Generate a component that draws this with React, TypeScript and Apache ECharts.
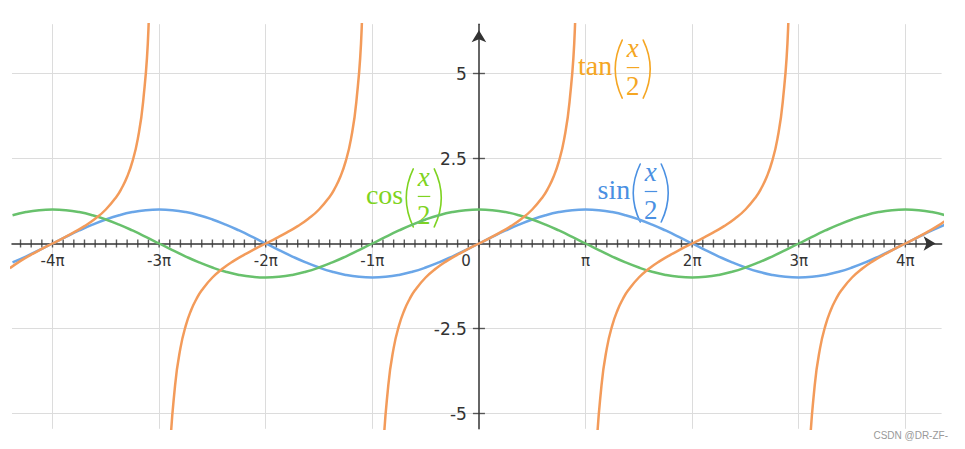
import React, { useEffect, useRef } from 'react';
import * as echarts from 'echarts';

// x positions are in multiples of π
const xSamples = [
  -4.375, -4.25, -4.125, -4, -3.875, -3.75, -3.625, -3.5, -3.375, -3.25, -3.125, -3,
  -2.875, -2.75, -2.625, -2.5, -2.375, -2.25, -2.125, -2, -1.875, -1.75, -1.625, -1.5,
  -1.375, -1.25, -1.125, -1, -0.875, -0.75, -0.625, -0.5, -0.375, -0.25, -0.125, 0,
  0.125, 0.25, 0.375, 0.5, 0.625, 0.75, 0.875, 1, 1.125, 1.25, 1.375, 1.5,
  1.625, 1.75, 1.875, 2, 2.125, 2.25, 2.375, 2.5, 2.625, 2.75, 2.875, 3,
  3.125, 3.25, 3.375, 3.5, 3.625, 3.75, 3.875, 4, 4.125, 4.25, 4.375,
];

const sinHalf = [
  -0.5556, -0.3827, -0.1951, 0, 0.1951, 0.3827, 0.5556, 0.7071, 0.8315, 0.9239, 0.9808, 1,
  0.9808, 0.9239, 0.8315, 0.7071, 0.5556, 0.3827, 0.1951, 0, -0.1951, -0.3827, -0.5556, -0.7071,
  -0.8315, -0.9239, -0.9808, -1, -0.9808, -0.9239, -0.8315, -0.7071, -0.5556, -0.3827, -0.1951, 0,
  0.1951, 0.3827, 0.5556, 0.7071, 0.8315, 0.9239, 0.9808, 1, 0.9808, 0.9239, 0.8315, 0.7071,
  0.5556, 0.3827, 0.1951, 0, -0.1951, -0.3827, -0.5556, -0.7071, -0.8315, -0.9239, -0.9808, -1,
  -0.9808, -0.9239, -0.8315, -0.7071, -0.5556, -0.3827, -0.1951, 0, 0.1951, 0.3827, 0.5556,
];

const cosHalf = [
  0.8315, 0.9239, 0.9808, 1, 0.9808, 0.9239, 0.8315, 0.7071, 0.5556, 0.3827, 0.1951, 0,
  -0.1951, -0.3827, -0.5556, -0.7071, -0.8315, -0.9239, -0.9808, -1, -0.9808, -0.9239, -0.8315, -0.7071,
  -0.5556, -0.3827, -0.1951, 0, 0.1951, 0.3827, 0.5556, 0.7071, 0.8315, 0.9239, 0.9808, 1,
  0.9808, 0.9239, 0.8315, 0.7071, 0.5556, 0.3827, 0.1951, 0, -0.1951, -0.3827, -0.5556, -0.7071,
  -0.8315, -0.9239, -0.9808, -1, -0.9808, -0.9239, -0.8315, -0.7071, -0.5556, -0.3827, -0.1951, 0,
  0.1951, 0.3827, 0.5556, 0.7071, 0.8315, 0.9239, 0.9808, 1, 0.9808, 0.9239, 0.8315,
];

const tanBranchLeft = [
  [-4.4, -0.7265], [-4.3, -0.5095], [-4.2, -0.3249], [-4.1, -0.1584], [-4, 0], [-3.9, 0.1584],
  [-3.8, 0.3249], [-3.7, 0.5095], [-3.6, 0.7265], [-3.5, 1], [-3.4, 1.3764], [-3.35, 1.6319],
  [-3.3, 1.9626], [-3.25, 2.4142], [-3.2, 3.0777], [-3.15, 4.1653], [-3.1, 6.3138], [-3.05, 12.7062],
];
const tanBranchMinus2 = [
  [-2.95, -12.7062], [-2.9, -6.3138], [-2.85, -4.1653], [-2.8, -3.0777], [-2.75, -2.4142], [-2.7, -1.9626],
  [-2.65, -1.6319], [-2.6, -1.3764], [-2.5, -1], [-2.4, -0.7265], [-2.3, -0.5095], [-2.2, -0.3249],
  [-2.1, -0.1584], [-2, 0], [-1.9, 0.1584], [-1.8, 0.3249], [-1.7, 0.5095], [-1.6, 0.7265],
  [-1.5, 1], [-1.4, 1.3764], [-1.35, 1.6319], [-1.3, 1.9626], [-1.25, 2.4142], [-1.2, 3.0777],
  [-1.15, 4.1653], [-1.1, 6.3138], [-1.05, 12.7062],
];
const tanBranchCentre = [
  [-0.95, -12.7062], [-0.9, -6.3138], [-0.85, -4.1653], [-0.8, -3.0777], [-0.75, -2.4142], [-0.7, -1.9626],
  [-0.65, -1.6319], [-0.6, -1.3764], [-0.5, -1], [-0.4, -0.7265], [-0.3, -0.5095], [-0.2, -0.3249],
  [-0.1, -0.1584], [0, 0], [0.1, 0.1584], [0.2, 0.3249], [0.3, 0.5095], [0.4, 0.7265],
  [0.5, 1], [0.6, 1.3764], [0.65, 1.6319], [0.7, 1.9626], [0.75, 2.4142], [0.8, 3.0777],
  [0.85, 4.1653], [0.9, 6.3138], [0.95, 12.7062],
];
const tanBranchPlus2 = [
  [1.05, -12.7062], [1.1, -6.3138], [1.15, -4.1653], [1.2, -3.0777], [1.25, -2.4142], [1.3, -1.9626],
  [1.35, -1.6319], [1.4, -1.3764], [1.5, -1], [1.6, -0.7265], [1.7, -0.5095], [1.8, -0.3249],
  [1.9, -0.1584], [2, 0], [2.1, 0.1584], [2.2, 0.3249], [2.3, 0.5095], [2.4, 0.7265],
  [2.5, 1], [2.6, 1.3764], [2.65, 1.6319], [2.7, 1.9626], [2.75, 2.4142], [2.8, 3.0777],
  [2.85, 4.1653], [2.9, 6.3138], [2.95, 12.7062],
];
const tanBranchRight = [
  [3.05, -12.7062], [3.1, -6.3138], [3.15, -4.1653], [3.2, -3.0777], [3.25, -2.4142], [3.3, -1.9626],
  [3.35, -1.6319], [3.4, -1.3764], [3.5, -1], [3.6, -0.7265], [3.7, -0.5095], [3.8, -0.3249],
  [3.9, -0.1584], [4, 0], [4.1, 0.1584], [4.2, 0.3249], [4.3, 0.5095], [4.4, 0.7265],
];
const tanBranches = [tanBranchLeft, tanBranchMinus2, tanBranchCentre, tanBranchPlus2, tanBranchRight];

const xTickValues = [-4, -3, -2, -1, 0, 1, 2, 3, 4];
const xTickLabels = ['-4π', '-3π', '-2π', '-1π', '0', 'π', '2π', '3π', '4π'];
const xGridValues = [-4, -3, -2, -1, 1, 2, 3, 4];
const yTickValues = [-5, -2.5, 2.5, 5];
const yTickLabels = ['-5', '-2.5', '2.5', '5'];
const xMinorTicks = Array.from({ length: 86 }, (_, i) => (i - 43) / 10); // every π/10

const X_MIN = -4.38;
const X_MAX = 4.34;
const Y_MIN = -5.45;
const Y_MAX = 6.45;

const SIN_COLOR = '#6aa6e8';
const COS_COLOR = '#68c16c';
const TAN_COLOR = '#f39b5a';

const curveLabels = [
  { name: 'tan', color: '#f5a623', at: [1.269, 5.13] },
  { name: 'cos', color: '#7ed321', at: [-0.691, 1.34] },
  { name: 'sin', color: '#4a90e2', at: [1.438, 1.485] },
];

const find = (vals: number[], labels: string[], v: number) => {
  for (let i = 0; i < vals.length; i++) if (Math.abs(vals[i] - v) < 1e-6) return labels[i];
  return '';
};

export default function App() {
  const ref = useRef<HTMLDivElement>(null);
  useEffect(() => {
    const chart = echarts.init(ref.current!, null, { renderer: 'svg' });
    const G = { left: 12, top: 24.2, width: 929.6, height: 404.6 };
    // axes cross at data zero: shift them from the grid edges to the zero line
    const zeroX = G.left + ((0 - X_MIN) / (X_MAX - X_MIN)) * G.width;
    const zeroY = G.top + ((Y_MAX - 0) / (Y_MAX - Y_MIN)) * G.height;
    const xOffset = zeroY - (G.top + G.height);
    const yOffset = -(zeroX - G.left);

    const line = (data: number[][], color: string, name: string) => ({
      type: 'line',
      name,
      data,
      smooth: true,
      showSymbol: false,
      silent: true,
      z: 3,
      lineStyle: { color, width: 2.5 },
      itemStyle: { color },
    });
    chart.setOption({
      animation: false,
      grid: { ...G, containLabel: false, outerBoundsMode: 'none' },
      xAxis: {
        type: 'value',
        min: X_MIN,
        max: X_MAX,
        minInterval: 1,
        maxInterval: 1,
        position: 'bottom',
        offset: xOffset,
        splitLine: { show: false },
        axisTick: { show: false },
        axisLine: {
          onZero: false,
          symbol: ['none', 'arrow'],
          symbolSize: [11, 12],
          symbolOffset: [0, -6],
          lineStyle: { color: '#333', width: 1.5 },
        },
        axisLabel: {
          margin: 10,
          fontSize: 15,
          fontFamily: 'DejaVu Sans',
          color: '#333',
          formatter: (v: number) => {
            const s = find(xTickValues, xTickLabels, v);
            return s === '0' ? '{z|0}' : s;
          },
          rich: { z: { padding: [0, 26, 0, 0], fontSize: 15, fontFamily: 'DejaVu Sans', color: '#333' } },
        },
      },
      yAxis: {
        type: 'value',
        min: Y_MIN,
        max: Y_MAX,
        minInterval: 2.5,
        maxInterval: 2.5,
        position: 'left',
        offset: yOffset,
        splitLine: { show: false },
        axisTick: { show: false },
        axisLine: {
          onZero: false,
          symbol: ['none', 'arrow'],
          symbolSize: [11, 12],
          symbolOffset: [0, -6],
          lineStyle: { color: '#333', width: 1.5 },
        },
        axisLabel: {
          margin: 12,
          fontSize: 17,
          fontFamily: 'DejaVu Sans',
          color: '#333',
          formatter: (v: number) => find(yTickValues, yTickLabels, v),
        },
      },
      series: [
        {
          type: 'line',
          data: [],
          silent: true,
          z: -2,
          markLine: {
            silent: true,
            z: -2,
            symbol: ['none', 'none'],
            label: { show: false },
            lineStyle: { color: '#dcdcdc', width: 1, type: 'solid' },
            data: [
              ...xGridValues.map((v) => ({ xAxis: v })),
              ...yTickValues.map((v) => ({ yAxis: v })),
            ],
          },
        },
        {
          type: 'scatter',
          silent: true,
          z: -1,
          symbol: 'rect',
          symbolSize: [1.4, 8],
          itemStyle: { color: '#333' },
          data: xMinorTicks.map((v) => [v, 0]),
        },
        {
          type: 'scatter',
          silent: true,
          z: -1,
          symbol: 'rect',
          symbolSize: [12, 1.4],
          itemStyle: { color: '#333' },
          data: yTickValues.map((v) => [0, v]),
        },
        line(xSamples.map((x, i) => [x, sinHalf[i]]), SIN_COLOR, 'sin'),
        line(xSamples.map((x, i) => [x, cosHalf[i]]), COS_COLOR, 'cos'),
        ...tanBranches.map((b) => line(b, TAN_COLOR, 'tan')),
      ],
    });

    const serif = 'Liberation Serif';
    const graphics: any[] = curveLabels.map((l) => {
      const [px, py] = chart.convertToPixel({ xAxisIndex: 0, yAxisIndex: 0 }, l.at) as number[];
      return {
        type: 'group',
        x: px,
        y: py,
        silent: true,
        children: [
          {
            type: 'text', x: -2, y: -3.5,
            style: { text: l.name, fill: l.color, fontSize: 28, fontFamily: serif, align: 'right', verticalAlign: 'middle' },
          },
          {
            type: 'bezierCurve',
            shape: { x1: 8, y1: -29, cpx1: -6, cpy1: 0, x2: 8, y2: 29 },
            style: { stroke: l.color, lineWidth: 1.6, fill: 'none', lineCap: 'round' },
          },
          {
            type: 'bezierCurve',
            shape: { x1: 29, y1: -29, cpx1: 43, cpy1: 0, x2: 29, y2: 29 },
            style: { stroke: l.color, lineWidth: 1.6, fill: 'none', lineCap: 'round' },
          },
          {
            type: 'text', x: 18.5, y: -21.1,
            style: { text: 'x', fill: l.color, fontSize: 27, fontStyle: 'italic', fontFamily: serif, align: 'center', verticalAlign: 'middle' },
          },
          {
            type: 'line',
            shape: { x1: 12.5, y1: -1.5, x2: 25, y2: -1.5 },
            style: { stroke: l.color, lineWidth: 1.2 },
          },
          {
            type: 'text', x: 18.5, y: 16.9,
            style: { text: '2', fill: l.color, fontSize: 27, fontFamily: serif, align: 'center', verticalAlign: 'middle' },
          },
        ],
      };
    });
    graphics.push({
      type: 'text',
      x: 948,
      y: 435,
      silent: true,
      style: { text: 'CSDN @DR-ZF-', fill: '#999', fontSize: 10, fontFamily: 'Liberation Sans', align: 'right', verticalAlign: 'middle' },
    });
    chart.setOption({ graphic: graphics });

    return () => chart.dispose();
  }, []);

  return <div ref={ref} style={{ position: 'fixed', left: 0, top: 0, width: 965, height: 449, background: '#fff' }} />;
}
